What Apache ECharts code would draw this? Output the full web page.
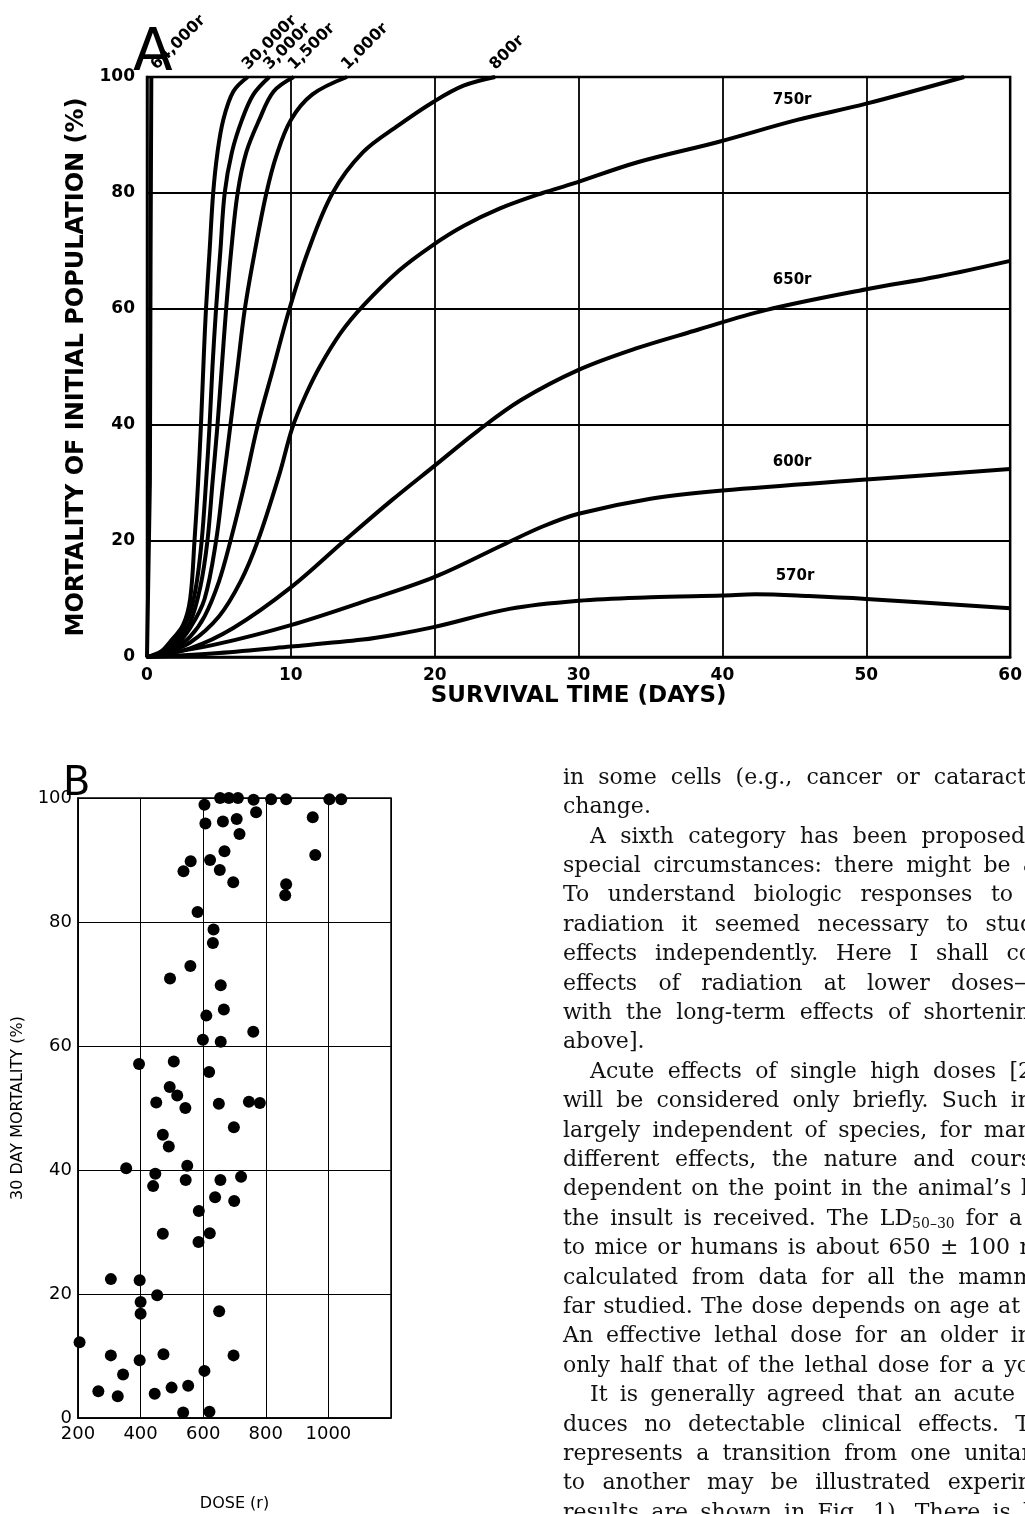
<!DOCTYPE html>
<html>
<head>
<meta charset="utf-8">
<script src="https://cdn.jsdelivr.net/npm/echarts@6/dist/echarts.min.js"></script>
<style>
html, body { margin: 0; padding: 0; background: #fff; }
#main { width: 1025px; height: 1514px; }
</style>
</head>
<body>
<div id="main"></div>
<script>
// ---- panel A : mortality (%) against survival time (days), one curve per dose
var doseNames = ['64,000r', '30,000r', '3,000r', '1,500r', '1,000r', '800r', '750r', '650r', '600r', '570r'];

var dose64000 = [[0, 0], [0.2, 30], [0.25, 70], [0.3, 100]];
var dose30000 = [[0, 0], [1, 1], [1.6, 2.6], [2.5, 5.5], [3.0, 10], [3.3, 20], [3.55, 30], [3.75, 40], [3.95, 52], [4.1, 60], [4.35, 70], [4.6, 80], [4.9, 87], [5.3, 92.6], [6.0, 97.5], [7.0, 100]];
var dose3000 = [[0, 0], [1, 0.8], [2, 3], [2.9, 7], [3.4, 12], [3.8, 20], [4.1, 30], [4.35, 40], [4.55, 50], [4.8, 60], [5.1, 70], [5.4, 80], [5.9, 87], [6.6, 92.6], [7.4, 97], [8.5, 100]];
var dose1500 = [[0, 0], [1, 0.7], [2, 2.5], [3, 6], [3.7, 12], [4.2, 20], [4.55, 30], [4.9, 40], [5.2, 50], [5.5, 60], [5.85, 70], [6.3, 80], [6.9, 87], [7.8, 92.6], [8.8, 97.5], [10.2, 100]];
var dose1000 = [[0, 0], [1, 0.6], [2, 2], [3, 5], [4, 10], [4.8, 20], [5.3, 30], [5.8, 40], [6.3, 50], [6.8, 60], [7.5, 70], [8.3, 80], [9.0, 86.5], [10.0, 92.6], [11.5, 97], [13.9, 100]];
var dose800 = [[0, 0], [1, 0.5], [2, 1.6], [3, 3.5], [4, 7], [5, 13], [5.8, 20], [6.8, 30], [7.7, 40], [8.8, 50], [9.9, 60], [11.2, 70], [12.9, 80], [15, 87], [17.5, 91.7], [19.9, 95.7], [22, 98.5], [24.2, 100]];
var dose750 = [[0, 0], [1.5, 1], [3, 2.5], [5, 7], [6.5, 13], [7.7, 20], [9.2, 31.5], [10.1, 39.5], [11, 45], [12, 50], [13.5, 56], [15, 60.5], [17.5, 66.6], [19.8, 70.9], [22, 74.3], [24.5, 77.3], [27.5, 80], [29.6, 81.6], [34.1, 85.3], [39.7, 88.8], [45.2, 92.6], [50, 95.4], [56.8, 100]];
var dose650 = [[0, 0], [3, 1.5], [6, 5], [10, 12], [13.7, 20], [17, 27], [20, 33], [23, 39], [26, 44.3], [30, 49.5], [34, 53.2], [38, 56.2], [43, 59.8], [50, 63.4], [55, 65.6], [60, 68.3]];
var dose600 = [[0, 0], [5, 2.3], [10, 5.5], [15, 9.5], [20, 13.8], [24.8, 19.4], [27.5, 22.5], [30, 24.7], [35, 27.3], [40, 28.7], [50, 30.6], [60, 32.4]];
var dose570 = [[0, 0], [5, 0.7], [10, 1.8], [15, 3], [17.1, 3.8], [20, 5.2], [25.2, 8.3], [30, 9.7], [35, 10.3], [40, 10.6], [42.3, 10.8], [46, 10.5], [50, 10], [60, 8.4]];

var curves = [dose64000, dose30000, dose3000, dose1500, dose1000, dose800, dose750, dose650, dose600, dose570];

// ---- panel B : 30 day mortality (%) against dose (r)
var doseB = [654, 682, 711, 761, 817, 865, 1003, 1041, 604, 769, 950, 707, 663, 607, 716, 668, 958, 560, 622, 537,
    653, 696, 865, 862, 582, 633, 631, 559, 494, 656, 666, 610, 760, 599, 656, 395, 506, 619, 493, 517,
    450, 543, 650, 746, 781, 698, 471, 490, 354, 549, 447, 440, 544, 655, 721, 638, 699, 586, 471, 621,
    585, 305, 397, 453, 400, 400, 651, 205, 305, 397, 473, 697, 344, 604, 265, 327, 445, 499, 552, 536, 620];
var mortB = [100, 100, 100, 99.7, 99.8, 99.8, 99.8, 99.8, 98.9, 97.7, 96.9, 96.6, 96.2, 95.9, 94.2, 91.4, 90.8, 89.8, 90.0, 88.2,
    88.4, 86.4, 86.1, 84.3, 81.6, 78.8, 76.6, 72.9, 70.9, 69.8, 65.9, 64.9, 62.3, 61.0, 60.7, 57.1, 57.5, 55.8, 53.4, 52.0,
    50.9, 50.0, 50.7, 51.0, 50.8, 46.9, 45.7, 43.8, 40.3, 40.7, 39.4, 37.4, 38.4, 38.4, 38.9, 35.6, 35.0, 33.4, 29.7, 29.8,
    28.4, 22.4, 22.2, 19.8, 18.7, 16.8, 17.2, 12.2, 10.1, 9.3, 10.3, 10.1, 7.0, 7.6, 4.3, 3.5, 3.9, 4.9, 5.2, 0.9, 1.0];

// running text on the page, right of panel B
// [text, indented, right end of the justified line (0 = not justified)]
var pageLines = [
    ['in some cells (e.g., cancer or cataract', 0, 1026],
    ['change.', 0, 0],
    ['A sixth category has been proposed', 1, 1025],
    ['special circumstances: there might be a', 0, 1036],
    ['To understand biologic responses to', 0, 1013],
    ['radiation it seemed necessary to stud', 0, 1034],
    ['effects independently. Here I shall co', 0, 1032],
    ['effects of radiation at lower doses\u2014', 0, 1036],
    ['with the long-term effects of shortenin', 0, 1030],
    ['above].', 0, 0],
    ['Acute effects of single high doses [2', 1, 1032],
    ['will be considered only briefly. Such in', 0, 1032],
    ['largely independent of species, for man', 0, 1032],
    ['different effects, the nature and cours', 0, 1032],
    ['dependent on the point in the animal\u2019s l', 0, 1028],
    ['the insult is received. The LD{sub|50\u201330} for a', 0, 1022],
    ['to mice or humans is about 650 \u00b1 100 r', 0, 1030],
    ['calculated from data for all the mamm', 0, 1034],
    ['far studied. The dose depends on age at', 0, 1020],
    ['An effective lethal dose for an older in', 0, 1032],
    ['only half that of the lethal dose for a yo', 0, 1030],
    ['It is generally agreed that an acute', 1, 1015],
    ['duces no detectable clinical effects. T', 0, 1030],
    ['represents a transition from one unitar', 0, 1032],
    ['to another may be illustrated experin', 0, 1032],
    ['results are shown in Fig. 1). There is l', 0, 1030]
];

var myChart = echarts.init(document.getElementById('main'));

var sansA = 'DejaVu Sans';

var seriesA = curves.map(function (pts, i) {
    return {
        name: doseNames[i],
        type: 'line',
        xAxisIndex: 0,
        yAxisIndex: 0,
        data: pts,
        smooth: i === 0 ? false : 0.35,
        symbol: 'none',
        lineStyle: { color: '#000', width: 4 },
        z: 5
    };
});

var pointsB = doseB.map(function (d, i) { return [d, mortB[i]]; });

var option = {
    animation: false,
    backgroundColor: '#fff',
    grid: [
        { left: 147, top: 77, right: 12, height: 580, show: true, borderColor: '#000', borderWidth: 2.5, backgroundColor: 'transparent' },
        { left: 78, top: 798, width: 313, height: 620, show: true, borderColor: '#000', borderWidth: 1.5, backgroundColor: 'transparent' }
    ],
    xAxis: [{
        gridIndex: 0,
        type: 'value',
        min: 0, max: 60, interval: 10,
        name: 'SURVIVAL TIME (DAYS)',
        nameLocation: 'middle',
        nameGap: 22,
        nameTextStyle: { color: '#000', fontFamily: sansA, fontWeight: 'bold', fontSize: 23 },
        axisLine: { show: true, lineStyle: { color: '#000', width: 2.5 } },
        axisTick: { show: false },
        axisLabel: { color: '#000', fontFamily: sansA, fontWeight: 'bold', fontSize: 17, margin: 10 },
        splitLine: { show: true, lineStyle: { color: '#000', width: 1.8 } }
    }, {
        gridIndex: 1,
        type: 'value',
        min: 200, max: 1200, interval: 200,
        name: 'DOSE (r)',
        nameLocation: 'middle',
        nameGap: 78,
        nameTextStyle: { color: '#000', fontFamily: sansA, fontSize: 16 },
        axisLine: { show: true, lineStyle: { color: '#000', width: 1.5 } },
        axisTick: { show: false },
        axisLabel: {
            color: '#000', fontFamily: sansA, fontSize: 18, margin: 7,
            formatter: function (v) { return v === 1200 ? '' : v; }
        },
        splitLine: { show: true, lineStyle: { color: '#000', width: 1 } }
    }],
    yAxis: [{
        gridIndex: 0,
        type: 'value',
        min: 0, max: 100, interval: 20,
        name: 'MORTALITY OF INITIAL POPULATION (%)',
        nameLocation: 'middle',
        nameGap: 56,
        nameTextStyle: { color: '#000', fontFamily: sansA, fontWeight: 'bold', fontSize: 24 },
        axisLine: { show: true, lineStyle: { color: '#000', width: 2.5 } },
        axisTick: { show: false },
        axisLabel: { color: '#000', fontFamily: sansA, fontWeight: 'bold', fontSize: 17, margin: 12 },
        splitLine: { show: true, lineStyle: { color: '#000', width: 1.8 } }
    }, {
        gridIndex: 1,
        type: 'value',
        min: 0, max: 100, interval: 20,
        name: '30 DAY MORTALITY (%)',
        nameLocation: 'middle',
        nameGap: 52,
        nameTextStyle: { color: '#000', fontFamily: sansA, fontSize: 16 },
        axisLine: { show: true, lineStyle: { color: '#000', width: 1.5 } },
        axisTick: { show: false },
        axisLabel: { color: '#000', fontFamily: sansA, fontSize: 18, margin: 6 },
        splitLine: { show: true, lineStyle: { color: '#000', width: 1 } }
    }],
    series: seriesA.concat([{
        type: 'scatter',
        xAxisIndex: 1,
        yAxisIndex: 1,
        data: pointsB,
        symbol: 'circle',
        symbolSize: 12,
        clip: false,
        itemStyle: { color: '#000', opacity: 1 },
        z: 5
    }])
};

myChart.setOption(option);

// dose labels, panel letters and running text
var graphics = [];
var labelFont = 'bold 15px "DejaVu Sans"';

// rotated labels sit at the top end of the steep curves
for (var i = 0; i < 6; i++) {
    var last = curves[i][curves[i].length - 1];
    var p = myChart.convertToPixel({ gridIndex: 0 }, [last[0], last[1]]);
    graphics.push({
        type: 'text', x: p[0] + (i === 0 ? 8 : 3), y: p[1] - 4, rotation: Math.PI / 4,
        style: { text: doseNames[i], font: 'bold 16px "DejaVu Sans"', fill: '#000', textAlign: 'left', align: 'left', textVerticalAlign: 'bottom', verticalAlign: 'bottom' },
        z: 10
    });
}
// flat labels for the slower curves
var flatLabelAt = [[43.5, 96], [43.5, 65], [43.5, 33.6], [43.7, 14]];
for (var j = 0; j < 4; j++) {
    var q = myChart.convertToPixel({ gridIndex: 0 }, flatLabelAt[j]);
    graphics.push({
        type: 'text', x: q[0], y: q[1],
        style: { text: doseNames[6 + j], font: labelFont, fill: '#000', textAlign: 'left', align: 'left', textVerticalAlign: 'middle', verticalAlign: 'middle' },
        z: 10
    });
}

graphics.push({
    type: 'text', x: 133, y: 84,
    style: { text: 'A', font: '58px "DejaVu Sans"', fill: '#000', textAlign: 'left', align: 'left', textVerticalAlign: 'bottom', verticalAlign: 'bottom' },
    z: 10
});
graphics.push({
    type: 'text', x: 63, y: 805,
    style: { text: 'B', font: '40px "DejaVu Sans"', fill: '#000', textAlign: 'left', align: 'left', textVerticalAlign: 'bottom', verticalAlign: 'bottom' },
    z: 10
});

// justified page text: each word placed on its own so gaps spread like the print
var textSize = 22, subSize = 14;
var measureCtx = document.createElement('canvas').getContext('2d');
function wordWidth(w) {
    var m = w.match(/^(.*)\{sub\|(.*)\}(.*)$/);
    measureCtx.font = textSize + 'px "DejaVu Serif"';
    if (!m) return measureCtx.measureText(w).width;
    var a = measureCtx.measureText(m[1] + m[3]).width;
    measureCtx.font = subSize + 'px "DejaVu Serif"';
    return a + measureCtx.measureText(m[2]).width;
}
pageLines.forEach(function (row, k) {
    var words = row[0].split(' ');
    var left = row[1] ? 590 : 563;
    var widths = words.map(wordWidth);
    var total = widths.reduce(function (s, w) { return s + w; }, 0);
    var space = textSize * 0.32;
    if (row[2] && words.length > 1) space = (row[2] - left - total) / (words.length - 1);
    var x = left;
    words.forEach(function (w, n) {
        graphics.push({
            type: 'text', x: x, y: 778 + k * 29.4,
            style: {
                text: w,
                font: textSize + 'px "DejaVu Serif"',
                fill: '#111',
                textAlign: 'left', align: 'left',
                textVerticalAlign: 'middle', verticalAlign: 'middle',
                rich: { sub: { fontSize: subSize, fontFamily: 'DejaVu Serif', padding: [10, 0, 0, 0] } }
            },
            z: 10
        });
        x += widths[n] + space;
    });
});

myChart.setOption({ graphic: graphics });

window.addEventListener('resize', function () {
    myChart.resize();
});
</script>
</body>
</html>
